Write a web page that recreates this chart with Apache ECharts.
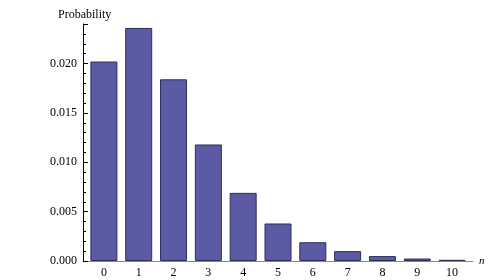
<!DOCTYPE html>
<html>
<head>
<meta charset="utf-8">
<script src="https://cdn.jsdelivr.net/npm/echarts@6/dist/echarts.min.js"></script>
<style>html,body{margin:0;padding:0;background:#fff}#c{width:491px;height:280px}</style>
</head>
<body>
<div id="c"></div>
<script>
const categories = [0, 1, 2, 3, 4, 5, 6, 7, 8, 9, 10];
const probabilities = [0.0202, 0.0236, 0.0184, 0.0118, 0.0069, 0.0038, 0.0019, 0.0010, 0.0005, 0.00025, 0.00012];
const yTickLabels = [0, 0.005, 0.010, 0.015, 0.020];

const font = 'Liberation Serif';
const chart = echarts.init(document.getElementById('c'), null, {renderer: 'canvas'});
chart.setOption({
  animation: false,
  backgroundColor: '#fff',
  title: {
    text: 'Probability', left: 53, top: 4,
    textStyle: {fontFamily: font, fontSize: 12, fontWeight: 'normal', color: '#000'}
  },
  grid: {left: 83, right: 18, top: 24, bottom: 19},
  xAxis: {
    type: 'value', min: -0.6, max: 10.6,
    name: 'n', nameLocation: 'end', nameGap: 6,
    nameTextStyle: {fontFamily: font, fontSize: 11, fontStyle: 'italic', color: '#000', verticalAlign: 'middle'},
    axisLine: {show: true, onZero: false, lineStyle: {color: '#888', width: 1}},
    axisTick: {show: false},
    splitLine: {show: false},
    axisLabel: {customValues: categories, margin: 6, fontFamily: font, fontSize: 12, color: '#000'}
  },
  yAxis: [{
    type: 'value', min: 0, max: 0.024, interval: 0.005,
    axisLine: {show: true, onZero: false, lineStyle: {color: '#000', width: 1}},
    axisTick: {show: true, inside: true, length: 5, lineStyle: {color: '#000'}},
    splitLine: {show: false},
    axisLabel: {customValues: yTickLabels, margin: 6, fontFamily: font, fontSize: 12, color: '#000',
      formatter: v => v.toFixed(3)}
  }, {
    type: 'value', min: 0, max: 0.024, interval: 0.001, position: 'left',
    axisLine: {show: false, onZero: false},
    axisTick: {show: true, inside: true, length: 3, lineStyle: {color: '#000'}},
    splitLine: {show: false},
    axisLabel: {show: false}
  }],
  series: [{
    type: 'bar', yAxisIndex: 0, barWidth: 27,
    itemStyle: {color: '#5b5aa5', borderColor: '#2e2e5a', borderWidth: 1},
    data: categories.map((c, i) => [c, probabilities[i]])
  }]
});
</script>
</body>
</html>
